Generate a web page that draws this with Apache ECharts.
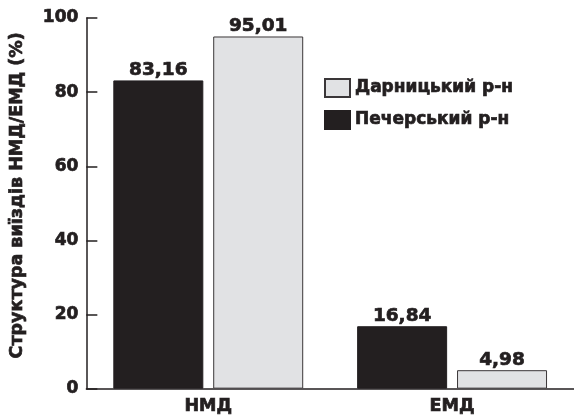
<!DOCTYPE html>
<html>
<head>
<meta charset="utf-8">
<script src="https://cdn.jsdelivr.net/npm/echarts@6/dist/echarts.min.js"></script>
<style>html,body{margin:0;padding:0;background:#fff}#c{width:574px;height:416px}</style>
</head>
<body>
<div id="c"></div>
<script>
const categories = ['НМД', 'ЕМД'];
const pecherskValues = [83.16, 16.84];
const darnytsiaValues = [95.01, 4.98];
const seriesNames = ['Печерський р-н', 'Дарницький р-н'];
const yTicks = [0, 20, 40, 60, 80, 100];
const yAxisTitle = 'Структура виїздів НМД/ЕМД (%)';

const dark = '#231f20';
const light = '#e1e2e4';
const font = 'DejaVu Sans';
const heavy = { fontFamily: font, fontWeight: 'bold', color: dark, textBorderColor: dark, textBorderWidth: 0.7 };
const fmt = p => String(p.value.toFixed(2)).replace('.', ',');

const chart = echarts.init(document.getElementById('c'));
chart.setOption({
  animation: false,
  backgroundColor: '#fff',
  textStyle: { fontFamily: font },
  grid: { left: 80, top: 18, bottom: 26.5, width: 498 },
  legend: {
    data: [seriesNames[1], seriesNames[0]],
    orient: 'vertical',
    left: 319, top: 73,
    itemWidth: 25, itemHeight: 18, itemGap: 12,
    textStyle: Object.assign({ fontSize: 17 }, heavy),
    icon: 'rect'
  },
  xAxis: {
    type: 'category',
    data: categories,
    axisLine: { lineStyle: { color: dark, width: 1.5 } },
    axisTick: { inside: true, length: 10, lineStyle: { color: dark, width: 1.5 } },
    axisLabel: Object.assign({ margin: 9, fontSize: 17.5 }, heavy)
  },
  yAxis: {
    type: 'value',
    min: yTicks[0], max: yTicks[yTicks.length - 1], interval: 20,
    name: yAxisTitle,
    nameLocation: 'middle',
    nameGap: 60,
    nameTextStyle: Object.assign({ fontSize: 17.5, padding: [0, 0, 0, 16] }, heavy),
    axisLine: { show: true, lineStyle: { color: dark, width: 1.5 } },
    axisTick: { show: true, inside: true, length: 11, lineStyle: { color: dark, width: 1.5 } },
    splitLine: { show: false },
    axisLabel: Object.assign({ margin: 8, fontSize: 17 }, heavy)
  },
  series: [
    {
      name: seriesNames[0], type: 'bar', data: pecherskValues,
      barWidth: 90, barGap: '11%',
      itemStyle: { color: dark, borderColor: dark, borderWidth: 1 },
      label: Object.assign({ show: true, position: 'top', distance: 1, formatter: fmt, fontSize: 18.5 }, heavy)
    },
    {
      name: seriesNames[1], type: 'bar', data: darnytsiaValues,
      barWidth: 90, barGap: '11%',
      itemStyle: { color: light, borderColor: '#3a3638', borderWidth: 1 },
      label: Object.assign({ show: true, position: 'top', distance: 1, formatter: fmt, fontSize: 18.5 }, heavy)
    }
  ]
});
</script>
</body>
</html>
